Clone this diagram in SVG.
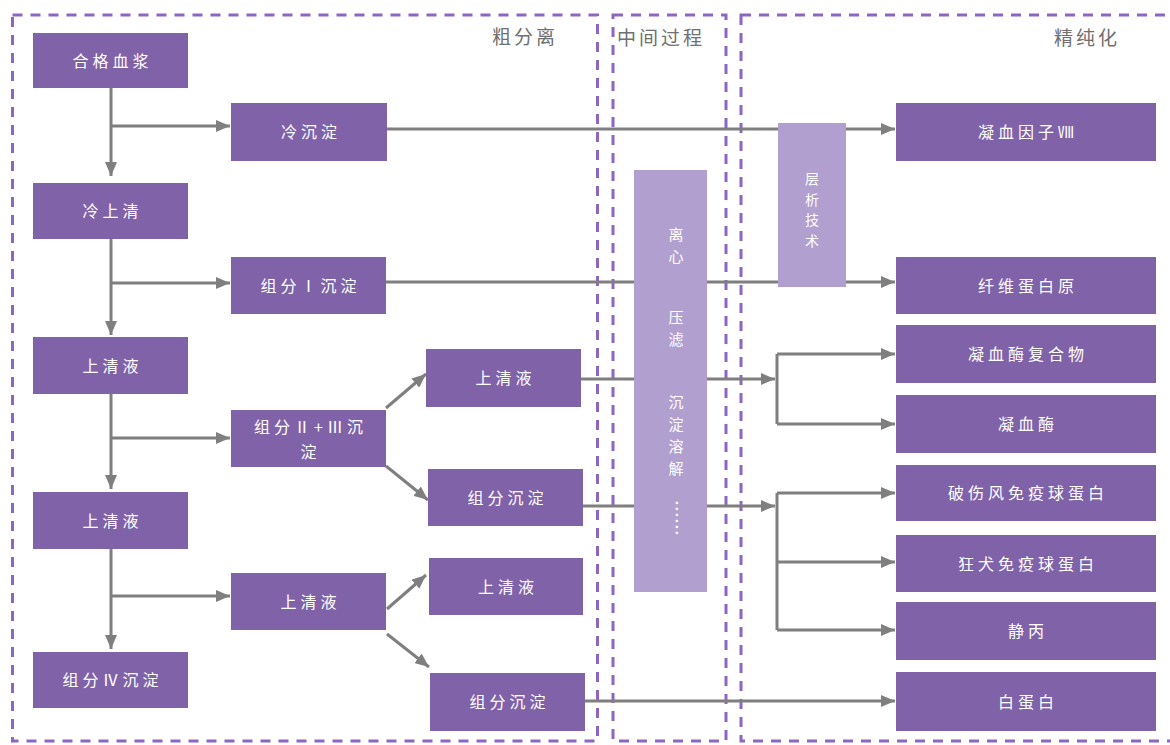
<svg xmlns="http://www.w3.org/2000/svg" width="1170" height="745" viewBox="0 0 1170 745">
<defs>
<style>
.sec{fill:none;stroke:#8c66c2;stroke-width:3;stroke-dasharray:10 8}
.node{fill:#8062a8}
.bar{fill:#b19fcf}
.t{font-family:"Noto Sans CJK SC","Noto Sans",sans-serif;font-size:16px;fill:#ffffff;text-anchor:middle;letter-spacing:4px}
.vt{font-family:"Noto Sans CJK SC","Noto Sans",sans-serif;font-size:15px;fill:#ffffff;text-anchor:middle}
.lbl{font-family:"Noto Sans CJK SC","Noto Sans",sans-serif;font-size:19px;fill:#707070;letter-spacing:3px}
.c{fill:none;stroke:#7f7f7f;stroke-width:3}
.a{marker-end:url(#arr)}
</style>
<marker id="arr" markerUnits="userSpaceOnUse" markerWidth="14" markerHeight="12" viewBox="0 0 14 12" refX="14" refY="6" orient="auto">
<path d="M0,0 L14,6 L0,12 z" fill="#7f7f7f"/>
</marker>
</defs>
<rect width="1170" height="745" fill="#ffffff"/>

<g id="sections">
<rect class="sec" x="12.5" y="15" width="585" height="726"/>
<rect class="sec" x="613" y="15" width="113" height="726"/>
<rect class="sec" x="741" y="15" width="440" height="726"/>
<text class="lbl" x="492" y="44">粗分离</text>
<text class="lbl" x="617" y="45" style="letter-spacing:3px">中间过程</text>
<text class="lbl" x="1054" y="45">精纯化</text>
</g>

<g id="connectors">
<path class="c a" d="M111,88 V176"/>
<path class="c a" d="M111,126 H230"/>
<path class="c a" d="M111,239 V335"/>
<path class="c a" d="M111,283 H230"/>
<path class="c a" d="M111,394 V489"/>
<path class="c a" d="M111,438 H230"/>
<path class="c a" d="M111,549 V649"/>
<path class="c a" d="M111,596 H230"/>
<path class="c a" d="M387,129 H895"/>
<path class="c a" d="M386,282 H895"/>
<path class="c a" d="M386,408 L426,374"/>
<path class="c a" d="M386,466 L428,500"/>
<path class="c a" d="M581,379 H775"/>
<path class="c" d="M777,354 V424"/>
<path class="c a" d="M777,354 H895"/>
<path class="c a" d="M777,424 H895"/>
<path class="c a" d="M583,506 H775"/>
<path class="c" d="M777,493 V630"/>
<path class="c a" d="M777,493 H895"/>
<path class="c a" d="M777,562 H895"/>
<path class="c a" d="M777,630 H895"/>
<path class="c a" d="M387,609 L426,575"/>
<path class="c a" d="M387,634 L429,667"/>
<path class="c a" d="M585,701 H895"/>
</g>

<g id="n-hegexuejiang"><rect class="node" x="33" y="33" width="155" height="55"/><text class="t" x="112.5" y="66.5">合格血浆</text></g>
<g id="n-lengshangqing"><rect class="node" x="33" y="183" width="155" height="56"/><text class="t" x="112.5" y="217">冷上清</text></g>
<g id="n-shangqingye1"><rect class="node" x="33" y="337" width="155" height="57"/><text class="t" x="112.5" y="371.5">上清液</text></g>
<g id="n-shangqingye2"><rect class="node" x="33" y="492" width="155" height="57"/><text class="t" x="112.5" y="526.5">上清液</text></g>
<g id="n-zufen4"><rect class="node" x="33" y="652" width="155" height="56"/><text class="t" x="112.5" y="686">组分Ⅳ沉淀</text></g>

<g id="n-lengchendian"><rect class="node" x="231" y="103" width="156" height="58"/><text class="t" x="311" y="138">冷沉淀</text></g>
<g id="n-zufen1"><rect class="node" x="231" y="257" width="155" height="57"/><text class="t" x="310.5" y="291.5">组分Ⅰ沉淀</text></g>
<g id="n-zufen23"><rect class="node" x="231" y="410" width="155" height="57"/><text class="t" x="310.5" y="433">组分Ⅱ+Ⅲ沉</text><text class="t" x="310.5" y="458">淀</text></g>
<g id="n-shangqingye3"><rect class="node" x="231" y="573" width="155" height="57"/><text class="t" x="310.5" y="607.5">上清液</text></g>

<g id="n-shangqingye4"><rect class="node" x="426" y="349" width="155" height="58"/><text class="t" x="505.5" y="384">上清液</text></g>
<g id="n-zufenchendian1"><rect class="node" x="428" y="469" width="155" height="57"/><text class="t" x="507.5" y="503.5">组分沉淀</text></g>
<g id="n-shangqingye5"><rect class="node" x="429" y="558" width="154" height="57"/><text class="t" x="508" y="592.5">上清液</text></g>
<g id="n-zufenchendian2"><rect class="node" x="430" y="673" width="155" height="58"/><text class="t" x="509.5" y="708">组分沉淀</text></g>

<g id="n-process"><rect class="bar" x="634" y="170" width="73" height="422"/>
<text class="vt" x="676" y="240">离</text>
<text class="vt" x="676" y="262">心</text>
<text class="vt" x="676" y="323">压</text>
<text class="vt" x="676" y="345">滤</text>
<text class="vt" x="676" y="408">沉</text>
<text class="vt" x="676" y="430">淀</text>
<text class="vt" x="676" y="452">溶</text>
<text class="vt" x="676" y="474">解</text>
<text class="vt" x="0" y="6" transform="translate(676,518) rotate(90)" style="font-size:18px">……</text>
</g>
<g id="n-chromatography"><rect class="bar" x="778" y="123" width="68" height="164"/>
<text class="vt" x="812" y="184" style="font-size:14px">层</text>
<text class="vt" x="812" y="204.5" style="font-size:14px">析</text>
<text class="vt" x="812" y="225" style="font-size:14px">技</text>
<text class="vt" x="812" y="245.5" style="font-size:14px">术</text>
</g>

<g id="r-f8"><rect class="node" x="896" y="103" width="260" height="58"/><text class="t" x="1028" y="138">凝血因子Ⅷ</text></g>
<g id="r-fib"><rect class="node" x="896" y="257" width="260" height="57"/><text class="t" x="1028" y="291.5">纤维蛋白原</text></g>
<g id="r-pcc"><rect class="node" x="896" y="325" width="260" height="58"/><text class="t" x="1028" y="360">凝血酶复合物</text></g>
<g id="r-thr"><rect class="node" x="896" y="395" width="260" height="58"/><text class="t" x="1028" y="430">凝血酶</text></g>
<g id="r-tig"><rect class="node" x="896" y="465" width="260" height="56"/><text class="t" x="1028" y="499">破伤风免疫球蛋白</text></g>
<g id="r-rig"><rect class="node" x="896" y="535" width="260" height="57"/><text class="t" x="1028" y="569.5">狂犬免疫球蛋白</text></g>
<g id="r-ivig"><rect class="node" x="896" y="602" width="260" height="58"/><text class="t" x="1028" y="637">静丙</text></g>
<g id="r-alb"><rect class="node" x="896" y="672" width="260" height="59"/><text class="t" x="1028" y="707.5">白蛋白</text></g>
</svg>
